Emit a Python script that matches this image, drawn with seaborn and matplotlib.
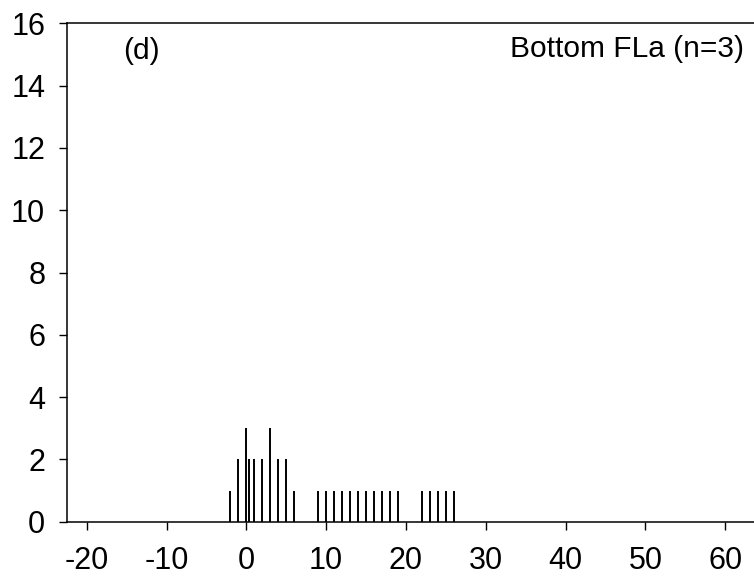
import matplotlib
matplotlib.use("Agg")
import matplotlib.pyplot as plt
import seaborn as sns
import pandas as pd

# Data
x_values = [-2, -1, 0, 0.3, 1, 2, 3, 4, 5, 6,
            9, 10, 11, 12, 13, 14, 15, 16, 17, 18, 19,
            22, 23, 24, 25, 26]
counts = [1, 2, 3, 2, 2, 2, 3, 2, 2, 1,
          1, 1, 1, 1, 1, 1, 1, 1, 1, 1, 1,
          1, 1, 1, 1, 1]
x_ticks = [-20, -10, 0, 10, 20, 30, 40, 50, 60]
y_ticks = [0, 2, 4, 6, 8, 10, 12, 14, 16]
panel_label = "(d)"
panel_title = "Bottom FLa (n=3)"

sns.set_style("ticks")
plt.rcParams['font.family'] = ['Liberation Sans', 'DejaVu Sans']

fig = plt.figure(figsize=(7.54, 5.77), dpi=100)
ax = fig.add_axes([0.0885, 0.0958, 0.9115, 0.8638])

df = pd.DataFrame({"x": x_values, "count": counts})
sns.barplot(data=df, x="x", y="count", native_scale=True, width=0.02,
            color="black", linewidth=1.4, edgecolor="black", saturation=1,
            errorbar=None, ax=ax)

ax.set_xlim(-22.5, 63.6)
ax.set_ylim(0, 16)
ax.set_xticks(x_ticks)
ax.set_yticks(y_ticks)
ax.set_xticklabels([str(t) for t in x_ticks])
ax.set_yticklabels([str(t) for t in y_ticks])
ax.set_xlabel("")
ax.set_ylabel("")

for s in ["left", "bottom", "top"]:
    ax.spines[s].set_visible(True)
    ax.spines[s].set_color("black")
    ax.spines[s].set_linewidth(1.1)
ax.spines["right"].set_visible(False)

ax.tick_params(axis="both", direction="out", length=5.5, width=1.0,
               colors="black", labelsize=22)
ax.tick_params(axis="x", pad=12)
ax.tick_params(axis="y", pad=10)

ax.text(0.0815, 0.945, panel_label, transform=ax.transAxes, fontsize=21.5,
        ha="left", va="center", color="black")
ax.text(62.4, 15.17, panel_title, fontsize=21.5, ha="right", va="center",
        color="black")

fig.savefig("out.png", dpi=100)
